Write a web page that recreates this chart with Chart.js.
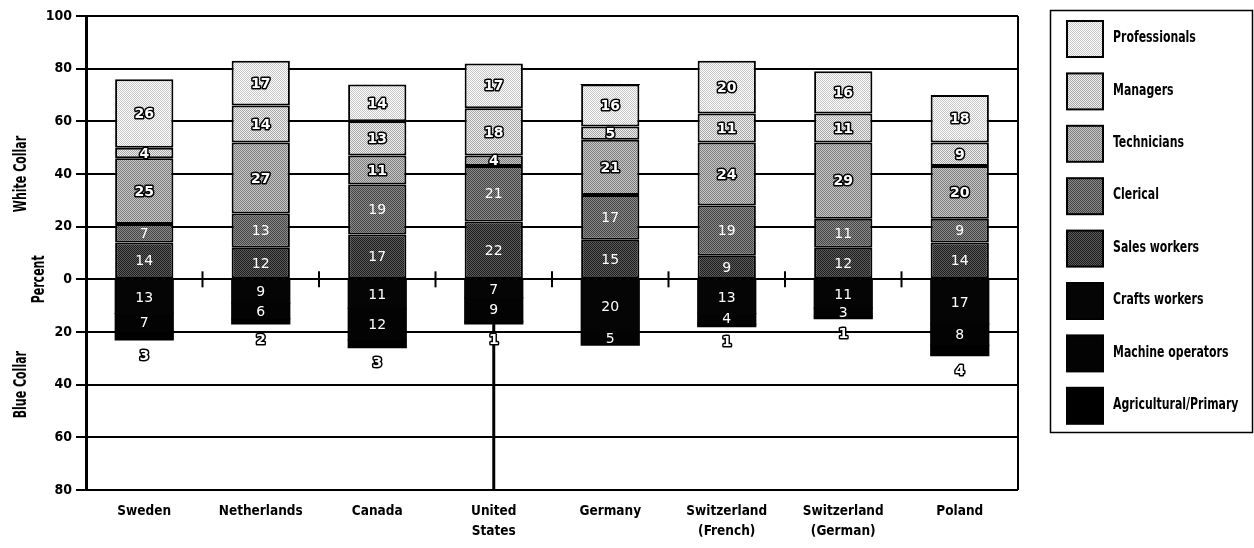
<!DOCTYPE html>
<html>
<head>
<meta charset="utf-8">
<script src="https://cdn.jsdelivr.net/npm/chart.js@4.4.1/dist/chart.umd.min.js"></script>
<style>
  html, body { margin: 0; padding: 0; background: #ffffff; }
  #wrap { width: 1254px; height: 548px; }
</style>
</head>
<body>
<div id="wrap"><canvas id="c" width="1254" height="548"></canvas></div>
<script>
// ---- Data ----
const categories = ['Sweden', 'Netherlands', 'Canada', ['United', 'States'], 'Germany',
  ['Switzerland', '(French)'], ['Switzerland', '(German)'], 'Poland'];

// White collar (percent, stacked upward from 0)
const salesWorkers   = [14, 12, 17, 22, 15, 9, 12, 14];
const clerical       = [7, 13, 19, 21, 17, 19, 11, 9];
const technicians    = [25, 27, 11, 4, 21, 24, 29, 20];
const managers       = [4, 14, 13, 18, 5, 11, 11, 9];
const professionals  = [26, 17, 14, 17, 16, 20, 16, 18];

// Blue collar (percent, stacked downward from 0)
const craftsWorkers    = [13, 9, 11, 7, 20, 13, 11, 17];
const machineOperators = [7, 6, 12, 9, 5, 4, 3, 8];
const agricultural     = [3, 2, 3, 1, 0, 1, 1, 4];

const yTicks = [100, 80, 60, 40, 20, 0, 20, 40, 60, 80];

const legendOrder = ['Professionals', 'Managers', 'Technicians', 'Clerical',
  'Sales workers', 'Crafts workers', 'Machine operators', 'Agricultural/Primary'];

// ---- Styles ----
const AXIS_FONT = '"DejaVu Sans Condensed", "Liberation Sans Narrow", sans-serif';
const NUM_FONT = '"DejaVu Sans", Verdana, sans-serif';

function stipple(light, dark) {
  const c = document.createElement('canvas');
  c.width = 2; c.height = 2;
  const g = c.getContext('2d');
  g.fillStyle = light; g.fillRect(0, 0, 2, 2);
  g.fillStyle = dark; g.fillRect(0, 0, 1, 1); g.fillRect(1, 1, 1, 1);
  return g.createPattern(c, 'repeat');
}

const fills = {
  'Professionals': stipple('#ffffff', '#c6c6c6'),
  'Managers': stipple('#f0f0f0', '#a6a6a6'),
  'Technicians': stipple('#c8c8c8', '#7c7c7c'),
  'Clerical': stipple('#8a8a8a', '#444444'),
  'Sales workers': stipple('#5c5c5c', '#1c1c1c'),
  'Crafts workers': '#050505',
  'Machine operators': '#030303',
  'Agricultural/Primary': '#000000'
};
const labelStyle = {
  'Professionals': 'outline', 'Managers': 'outline', 'Technicians': 'outline',
  'Clerical': 'white', 'Sales workers': 'white',
  'Crafts workers': 'white', 'Machine operators': 'white', 'Agricultural/Primary': 'below'
};

function ds(label, values, sign) {
  return {
    label: label,
    data: values.map(v => sign * v),
    backgroundColor: fills[label],
    borderColor: '#000000',
    borderWidth: sign > 0 ? 2 : 0,
    borderSkipped: false,
    inflateAmount: sign > 0 ? 'auto' : 0.5,
    stack: 'jobs',
    barPercentage: 0.5,
    categoryPercentage: 1.0
  };
}

const datasets = [
  ds('Sales workers', salesWorkers, 1),
  ds('Clerical', clerical, 1),
  ds('Technicians', technicians, 1),
  ds('Managers', managers, 1),
  ds('Professionals', professionals, 1),
  ds('Crafts workers', craftsWorkers, -1),
  ds('Machine operators', machineOperators, -1),
  ds('Agricultural/Primary', agricultural, -1)
];

function condensedText(ctx, text, x, y, sx) {
  ctx.save();
  ctx.translate(x, y);
  ctx.scale(sx, 1);
  ctx.fillText(text, 0, 0);
  ctx.restore();
}

// ---- Plugins ----
const decor = {
  id: 'decor',
  beforeDatasetsDraw(chart) {
    const ctx = chart.ctx, a = chart.chartArea, x = chart.scales.x, y = chart.scales.y;
    ctx.save();
    ctx.strokeStyle = '#000';
    ctx.lineWidth = 2;
    ctx.beginPath();
    ctx.moveTo(a.right, a.top); ctx.lineTo(a.right, a.bottom);
    ctx.stroke();
    const y0 = y.getPixelForValue(0);
    for (let i = 0; i < categories.length - 1; i++) {
      const bx = (x.getPixelForValue(i) + x.getPixelForValue(i + 1)) / 2;
      ctx.beginPath();
      ctx.moveTo(bx, y0 - 8); ctx.lineTo(bx, y0 + 8);
      ctx.stroke();
    }
    // United States leader line below the bar
    const us = 3;
    const usBottom = -(craftsWorkers[us] + machineOperators[us] + agricultural[us]);
    const ux = x.getPixelForValue(us);
    ctx.lineWidth = 3;
    ctx.beginPath();
    ctx.moveTo(ux, y.getPixelForValue(usBottom)); ctx.lineTo(ux, a.bottom);
    ctx.stroke();
    ctx.restore();
  },
  afterDatasetsDraw(chart) {
    const ctx = chart.ctx;
    ctx.save();
    ctx.textAlign = 'center';
    ctx.textBaseline = 'middle';
    ctx.lineJoin = 'round';
    chart.data.datasets.forEach((d, di) => {
      const meta = chart.getDatasetMeta(di);
      const style = labelStyle[d.label];
      meta.data.forEach((el, i) => {
        const v = Math.abs(d.data[i]);
        if (!v) return;
        let ty = (el.y + el.base) / 2;
        if (style === 'below') ty = Math.max(el.y, el.base) + 15;
        const txt = String(v);
        if (style === 'outline' || style === 'below') {
          ctx.font = 'bold 14px ' + NUM_FONT;
          ctx.lineWidth = 3;
          ctx.strokeStyle = '#000';
          ctx.strokeText(txt, el.x, ty + 1);
          ctx.fillStyle = '#fff';
          ctx.fillText(txt, el.x, ty + 1);
        } else {
          ctx.font = '14px ' + NUM_FONT;
          ctx.fillStyle = '#fff';
          ctx.fillText(txt, el.x, ty + 1);
        }
      });
    });
    ctx.restore();
  },
  afterDraw(chart) {
    const ctx = chart.ctx, y = chart.scales.y;
    ctx.save();
    ctx.fillStyle = '#000';
    ctx.font = 'bold 17px ' + AXIS_FONT;
    ctx.textAlign = 'center';
    ctx.textBaseline = 'middle';
    const titles = [['White Collar', 22, 40], ['Percent', 40, 0], ['Blue Collar', 22, -40]];
    titles.forEach(([t, tx, v]) => {
      ctx.save();
      ctx.translate(tx, y.getPixelForValue(v));
      ctx.rotate(-Math.PI / 2);
      ctx.scale(0.72, 1);
      ctx.fillText(t, 0, 0);
      ctx.restore();
    });
    // legend
    ctx.lineWidth = 1.5;
    ctx.strokeStyle = '#000';
    ctx.strokeRect(1050.5, 10.5, 202, 422);
    ctx.textAlign = 'left';
    ctx.font = 'bold 16px ' + AXIS_FONT;
    legendOrder.forEach((name, i) => {
      const d = chart.data.datasets.find(s => s.label === name);
      const sy = 21 + i * 52.4;
      ctx.fillStyle = d.backgroundColor;
      ctx.fillRect(1067, sy, 36, 36);
      ctx.lineWidth = 2;
      ctx.strokeRect(1067, sy, 36, 36);
      ctx.fillStyle = '#000';
      condensedText(ctx, name, 1113, sy + 17, 0.76);
    });
    ctx.restore();
  }
};

new Chart(document.getElementById('c'), {
  type: 'bar',
  data: { labels: categories, datasets: datasets },
  options: {
    responsive: false,
    animation: false,
    devicePixelRatio: 1,
    layout: { padding: { left: 0, top: 16, right: 236, bottom: 0 } },
    plugins: { legend: { display: false }, tooltip: { enabled: false } },
    scales: {
      x: {
        stacked: true,
        grid: { display: false, drawTicks: false },
        border: { display: false },
        ticks: {
          color: '#000', padding: 12, maxRotation: 0, autoSkip: false,
          font: { family: AXIS_FONT, size: 13.5, weight: 'bold', lineHeight: 1.45 }
        },
        afterFit(s) { s.height = 58; }
      },
      y: {
        stacked: true,
        min: -80, max: 100,
        grid: { color: '#000', lineWidth: 2, drawTicks: true, tickLength: 10, tickColor: '#000' },
        border: { display: true, color: '#000', width: 3 },
        ticks: {
          stepSize: 20, color: '#000', padding: 4,
          font: { family: AXIS_FONT, size: 14, weight: 'bold' },
          callback: (v, i) => yTicks[yTicks.length - 1 - i]
        },
        afterFit(s) { s.width = 86; }
      }
    }
  },
  plugins: [decor]
});
</script>
</body>
</html>
